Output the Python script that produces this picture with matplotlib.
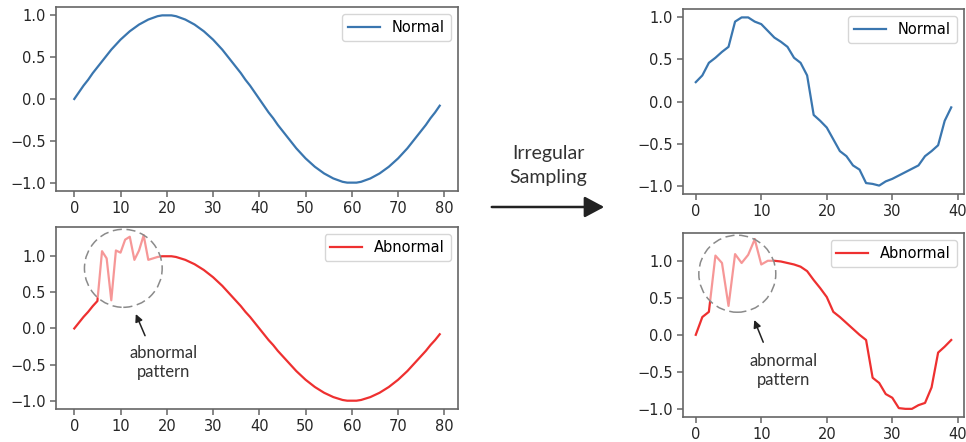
import matplotlib
matplotlib.use('Agg')
import matplotlib.pyplot as plt
from matplotlib.patches import Ellipse, FancyArrowPatch

# 80-step series (left column)
normal_full = [0.00, 0.08, 0.16, 0.23, 0.31, 0.38, 0.45, 0.52, 0.59, 0.65,
               0.71, 0.76, 0.81, 0.85, 0.89, 0.92, 0.95, 0.97, 0.99, 1.00,
               1.00, 1.00, 0.99, 0.97, 0.95, 0.92, 0.89, 0.85, 0.81, 0.76,
               0.71, 0.65, 0.59, 0.52, 0.45, 0.38, 0.31, 0.23, 0.16, 0.08,
               0.00, -0.08, -0.16, -0.23, -0.31, -0.38, -0.45, -0.52, -0.59, -0.65,
               -0.71, -0.76, -0.81, -0.85, -0.89, -0.92, -0.95, -0.97, -0.99, -1.00,
               -1.00, -1.00, -0.99, -0.97, -0.95, -0.92, -0.89, -0.85, -0.81, -0.76,
               -0.71, -0.65, -0.59, -0.52, -0.45, -0.38, -0.31, -0.23, -0.16, -0.08]

abnormal_full = [0.00, 0.08, 0.16, 0.23, 0.31, 0.38, 1.07, 0.97, 0.39, 1.08,
                 1.05, 1.23, 1.27, 0.95, 1.08, 1.29, 0.95, 0.97, 0.99, 1.00,
                 1.00, 1.00, 0.99, 0.97, 0.95, 0.92, 0.89, 0.85, 0.81, 0.76,
                 0.71, 0.65, 0.59, 0.52, 0.45, 0.38, 0.31, 0.23, 0.16, 0.08,
                 0.00, -0.08, -0.16, -0.23, -0.31, -0.38, -0.45, -0.52, -0.59, -0.65,
                 -0.71, -0.76, -0.81, -0.85, -0.89, -0.92, -0.95, -0.97, -0.99, -1.00,
                 -1.00, -1.00, -0.99, -0.97, -0.95, -0.92, -0.89, -0.85, -0.81, -0.76,
                 -0.71, -0.65, -0.59, -0.52, -0.45, -0.38, -0.31, -0.23, -0.16, -0.08]

# 40-step irregularly sampled series (right column)
normal_sampled = [0.23, 0.31, 0.46, 0.52, 0.59, 0.65, 0.95, 1.00, 1.00, 0.95,
                  0.92, 0.84, 0.76, 0.71, 0.65, 0.52, 0.46, 0.31, -0.16, -0.23,
                  -0.31, -0.45, -0.59, -0.65, -0.76, -0.81, -0.97, -0.98, -1.00, -0.95,
                  -0.92, -0.88, -0.84, -0.80, -0.76, -0.65, -0.59, -0.52, -0.23, -0.07]

abnormal_sampled = [0.00, 0.24, 0.31, 1.07, 0.97, 0.39, 1.09, 0.97, 1.08, 1.29,
                    0.95, 1.00, 1.00, 0.99, 0.97, 0.95, 0.92, 0.86, 0.74, 0.63,
                    0.51, 0.31, 0.24, 0.16, 0.08, 0.00, -0.07, -0.58, -0.65, -0.80,
                    -0.85, -0.99, -1.00, -1.00, -0.95, -0.92, -0.71, -0.24, -0.16, -0.07]

blue = '#3a76af'
red = '#ee3030'
spine_grey = '#666666'
text_dark = '#262626'
fs = 10.5

plt.rcParams['font.family'] = ['DejaVu Sans']
plt.rcParams['font.size'] = fs

fig = plt.figure(figsize=(9.66, 4.42), dpi=100)
W, H = 966, 442


def axes_at(left, top, right, bottom):
    return fig.add_axes([left / W, 1 - bottom / H, (right - left) / W, (bottom - top) / H])


def style(ax):
    for s in ax.spines.values():
        s.set_color(spine_grey)
        s.set_linewidth(1.2)
    ax.tick_params(colors=spine_grey, labelcolor=text_dark, labelsize=fs,
                   length=4, width=1.1)
    ax.set_yticks([-1.0, -0.5, 0.0, 0.5, 1.0])


def mark_pattern(ax, center, w, h, tip, tail, label_pos):
    ring = Ellipse(center, w, h, facecolor='white', alpha=0.5, edgecolor='none', zorder=3)
    ax.add_patch(ring)
    edge = Ellipse(center, w, h, facecolor='none', edgecolor='#8a8a8a',
                   linestyle=(0, (6, 3)), linewidth=1.1, zorder=4)
    ax.add_patch(edge)
    ax.annotate('', xy=tip, xytext=tail,
                arrowprops=dict(arrowstyle='-|>', color='#222222', lw=1.1,
                                mutation_scale=11, shrinkA=0, shrinkB=0))
    ax.text(label_pos[0], label_pos[1], 'abnormal\npattern', ha='center', va='center',
            family=['Lato', 'DejaVu Sans'], fontsize=12, color='#333333', linespacing=1.25)


ax1 = axes_at(56, 7, 458, 191)
ax1.plot(range(len(normal_full)), normal_full, color=blue, lw=1.6, label='Normal')
style(ax1)
ax1.set_xticks(range(0, 81, 10))
ax1.legend(loc='upper right', fontsize=fs, handlelength=2.2)

ax2 = axes_at(56, 227, 458, 409)
ax2.plot(range(len(abnormal_full)), abnormal_full, color=red, lw=1.6, label='Abnormal')
style(ax2)
ax2.set_xticks(range(0, 81, 10))
ax2.set_ylim(-1.115, 1.405)
ax2.legend(loc='upper right', fontsize=fs, handlelength=2.2)
mark_pattern(ax2, (10.6, 0.833), 16.8, 1.08, (13.3, 0.20), (15.3, -0.10), (19.2, -0.47))

ax3 = axes_at(683, 9, 964, 194)
ax3.plot(range(len(normal_sampled)), normal_sampled, color=blue, lw=1.6, label='Normal')
style(ax3)
ax3.set_xticks(range(0, 41, 10))
ax3.legend(loc='upper right', fontsize=fs, handlelength=2.2)

ax4 = axes_at(683, 233, 964, 417)
ax4.plot(range(len(abnormal_sampled)), abnormal_sampled, color=red, lw=1.6, label='Abnormal')
style(ax4)
ax4.set_xticks(range(0, 41, 10))
ax4.set_ylim(-1.11, 1.375)
ax4.legend(loc='upper right', fontsize=fs, handlelength=2.2)
mark_pattern(ax4, (6.34, 0.825), 11.75, 1.04, (8.93, 0.20), (10.3, -0.10), (13.45, -0.48))

# middle label and arrow
fig.text(548 / W, 1 - 153 / H, 'Irregular', ha='center', va='center',
         family=['Lato', 'DejaVu Sans'], fontsize=14, color='#333333')
fig.text(548 / W, 1 - 177 / H, 'Sampling', ha='center', va='center',
         family=['Lato', 'DejaVu Sans'], fontsize=14, color='#333333')
fig.patches.append(FancyArrowPatch(
    (489 / W, 1 - 207 / H), (607 / W, 1 - 207 / H), transform=fig.transFigure,
    arrowstyle='-|>,head_length=0.6,head_width=0.32', mutation_scale=20,
    color='#222222', lw=1.8))

fig.savefig('out.png', dpi=100)
